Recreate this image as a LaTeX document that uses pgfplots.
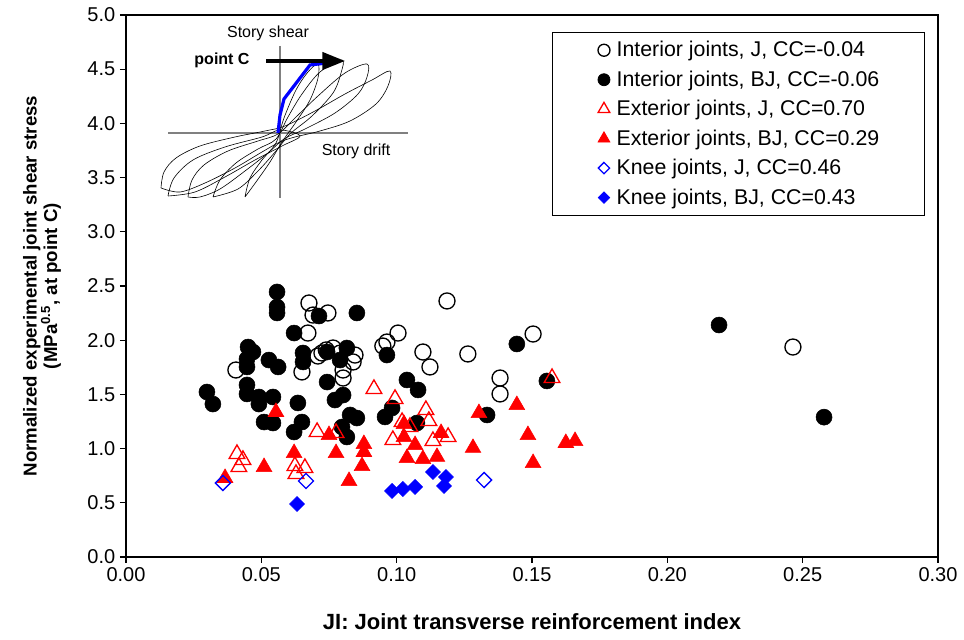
\documentclass[border=0pt]{standalone}
\usepackage{pgfplots}
\pgfplotsset{compat=1.18}
\usepackage{fontspec}
\setmainfont{Liberation Sans}
\usetikzlibrary{arrows.meta}
\begin{document}
\begin{tikzpicture}
% ---------------- inset (hysteresis sketch), pixel coordinates ----------------
\begin{axis}[scale only axis, width=609pt, height=406.5pt,
  xmin=126, xmax=938, ymin=15, ymax=557, y dir=reverse,
  hide axis, clip=false]
\addplot[gray, line width=0.8pt] coordinates {(280,46) (280,198)};
\addplot[gray, line width=0.8pt] coordinates {(168,133) (408,133)};
\addplot[black, line width=0.45pt, smooth, tension=0.55] coordinates {
 (161,188) (164,172) (176,158) (200,146) (235,137) (265,131) (285,126) (315,111) (345,94) (372,80) (390,71)
 (388,86) (376,104) (350,121) (320,131) (295,137) (280,142) (262,152) (235,168) (205,183) (180,192) (161,188)};
\addplot[black, line width=0.45pt, smooth, tension=0.55] coordinates {
 (188,197) (192,180) (204,165) (228,151) (258,141) (278,134) (295,118) (318,96) (345,73) (367,64)
 (367,77) (358,94) (335,113) (305,129) (284,139) (268,153) (245,171) (220,189) (200,197) (188,197)};
\addplot[black, line width=0.45pt, smooth, tension=0.55] coordinates {
 (213,197) (220,180) (236,163) (258,149) (276,139) (288,117) (302,94) (320,72) (342,60)
 (341,73) (333,93) (312,116) (290,134) (276,151) (258,171) (238,189) (213,197)};
\addplot[black, line width=0.45pt, smooth, tension=0.55] coordinates {
 (245,197) (250,178) (262,160) (276,143) (284,118) (296,90) (308,72) (318,64)
 (318,78) (310,100) (296,122) (282,142) (270,162) (256,182) (245,197)};
\addplot[black, line width=0.45pt, smooth, tension=0.55] coordinates {
 (168,196) (174,178) (193,160) (225,147) (262,137) (280,130)
 (300,136) (282,146) (255,160) (225,177) (195,192) (168,196)};
\addplot[blue, line width=2.4pt] coordinates {(278,133) (280,115) (284,99) (310,65) (327,63) (340,61)};
\draw[line width=2.4pt, -{Triangle[length=17pt,width=13pt]}] (axis cs:266,61) -- (axis cs:345,61);
\node[font=\fontsize{12}{13}\selectfont] at (axis cs:268,33) {Story shear};
\node[font=\fontsize{12}{13}\selectfont] at (axis cs:356,151) {Story drift};
\node[font=\bfseries\fontsize{12}{13}\selectfont] at (axis cs:222,60) {point C};
\end{axis}
% ---------------- main axis ----------------
\begin{axis}[scale only axis, width=609pt, height=406.5pt,
  xmin=0, xmax=0.30, ymin=0, ymax=5,
  xtick={0,0.05,0.1,0.15,0.2,0.25,0.3},
  ytick={0,0.5,1,1.5,2,2.5,3,3.5,4,4.5,5},
  scaled x ticks=false, scaled y ticks=false,
  /pgf/number format/assume math mode=true,
  xticklabel style={/pgf/number format/fixed, /pgf/number format/fixed zerofill, /pgf/number format/precision=2},
  yticklabel style={/pgf/number format/fixed, /pgf/number format/fixed zerofill, /pgf/number format/precision=1},
  ticklabel style={font=\fontsize{15}{17}\selectfont},
  tick align=outside, tick pos=left, major tick length=4.5pt,
  tick style={black, line width=0.8pt},
  axis line style={line width=1.3pt},
  xlabel={JI: Joint transverse reinforcement index},
  ylabel={Normalized experimental joint shear stress\\(MPa\textsuperscript{0.5}, at point C)},
  xlabel style={font=\bfseries\fontsize{16.5}{18}\selectfont, at={(axis description cs:0.5,-0.12)}, anchor=center},
  ylabel style={font=\bfseries\fontsize{14}{15.5}\selectfont, align=center, at={(axis description cs:-0.1034,0.5)}, anchor=center},
  legend style={at={(0.984,0.969)}, anchor=north east, draw=black, line width=0.6pt,
    font=\fontsize{16}{18}\selectfont, cells={anchor=west}, row sep=5pt,
    inner xsep=32pt, inner ysep=5pt},
  legend image code/.code={\path (-6pt,0pt) (7pt,0pt); \draw[#1, mark size=0.75*\pgfplotmarksize] plot coordinates {(0pt,0pt)};},
]
% Interior joints, J (open circles)
\addplot[only marks, mark=o, mark size=6pt, black, line width=1pt] coordinates {
(0.0676,2.343) (0.0691,2.232) (0.0746,2.251) (0.0672,2.066) (0.0406,1.725) (0.0650,1.707)
(0.0709,1.854) (0.0724,1.882) (0.0765,1.928) (0.0846,1.863) (0.0839,1.799) (0.0802,1.725)
(0.0802,1.651) (0.1005,2.066) (0.0964,1.983) (0.0949,1.946) (0.1097,1.891) (0.1123,1.753)
(0.1186,2.362) (0.1263,1.873) (0.1382,1.651) (0.1382,1.504) (0.1504,2.057) (0.2464,1.937)
(0.0740,1.910) (0.0790,1.880)};
\addlegendentry{Interior joints, J, CC=-0.04}
% Interior joints, BJ (filled circles)
\addplot[only marks, mark=*, mark size=6pt, black] coordinates {
(0.0558,2.445) (0.0558,2.306) (0.0558,2.251) (0.0621,2.066) (0.0451,1.937) (0.0469,1.891)
(0.0447,1.827) (0.0447,1.753) (0.0528,1.817) (0.0562,1.753) (0.0654,1.882) (0.0654,1.799)
(0.0299,1.522) (0.0321,1.411) (0.0447,1.587) (0.0447,1.504) (0.0491,1.476) (0.0491,1.411)
(0.0543,1.476) (0.0635,1.421) (0.0510,1.245) (0.0543,1.236) (0.0650,1.245) (0.0621,1.153)
(0.0713,2.223) (0.0853,2.251) (0.0743,1.891) (0.0816,1.928) (0.0791,1.817) (0.0964,1.863)
(0.0743,1.614) (0.1038,1.633) (0.1079,1.541) (0.0772,1.448) (0.0802,1.494) (0.0828,1.310)
(0.0853,1.282) (0.0957,1.292) (0.0983,1.375) (0.0798,1.199) (0.0816,1.107) (0.1075,1.236)
(0.1444,1.965) (0.1555,1.624) (0.1334,1.310) (0.2191,2.140) (0.2579,1.290)};
\addlegendentry{Interior joints, BJ, CC=-0.06}
% Exterior joints, J (open triangles)
\addplot[only marks, mark=triangle, mark size=6.8pt, red, line width=1pt] coordinates {
(0.0410,0.950) (0.0432,0.895) (0.0417,0.830) (0.0624,0.839) (0.0661,0.821) (0.0628,0.766)
(0.0706,1.153) (0.0776,1.144) (0.0916,1.550) (0.0994,1.458) (0.1108,1.356) (0.1119,1.255)
(0.1020,1.245) (0.1049,1.199) (0.0986,1.079) (0.1134,1.070) (0.1190,1.107) (0.1574,1.651)};
\addlegendentry{Exterior joints, J, CC=0.70}
% Exterior joints, BJ (filled triangles)
\addplot[only marks, mark=triangle*, mark size=6.8pt, red] coordinates {
(0.0554,1.338) (0.0621,0.959) (0.0510,0.830) (0.0366,0.729) (0.0750,1.125) (0.0776,0.959)
(0.0879,1.042) (0.0879,0.969) (0.0872,0.839) (0.0824,0.701) (0.1027,1.227) (0.1027,1.107)
(0.1068,1.033) (0.1038,0.913) (0.1097,0.904) (0.1149,0.923) (0.1164,1.144) (0.1304,1.328)
(0.1282,1.006) (0.1444,1.402) (0.1485,1.125) (0.1504,0.867) (0.1625,1.052) (0.1659,1.070)};
\addlegendentry{Exterior joints, BJ, CC=0.29}
% Knee joints, J (open diamonds)
\addplot[only marks, mark=square, mark size=4pt, mark options={rotate=45}, blue, line width=1pt] coordinates {
(0.0358,0.683) (0.0665,0.701) (0.1323,0.710)};
\addlegendentry{Knee joints, J, CC=0.46}
% Knee joints, BJ (filled diamonds)
\addplot[only marks, mark=square*, mark size=4pt, mark options={rotate=45}, blue] coordinates {
(0.0632,0.489) (0.0983,0.609) (0.1023,0.627) (0.1068,0.646) (0.1134,0.784) (0.1182,0.738) (0.1175,0.655)};
\addlegendentry{Knee joints, BJ, CC=0.43}
\coordinate (SW) at (rel axis cs:0,0);
\coordinate (NE) at (rel axis cs:1,1);
\end{axis}
\pgfresetboundingbox
\path[use as bounding box] ([xshift=-94.5pt,yshift=-62.25pt]SW) rectangle ([xshift=19.5pt,yshift=11.25pt]NE);
\end{tikzpicture}
\end{document}
